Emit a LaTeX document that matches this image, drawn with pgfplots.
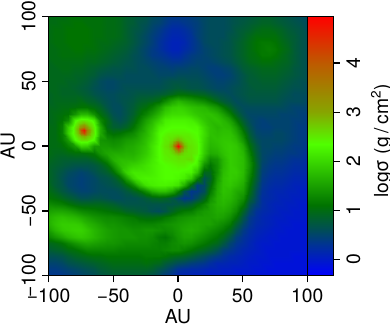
\documentclass[border=0pt]{standalone}
\usepackage{fontspec}
\setmainfont{TeX Gyre Heros}
\usepackage{pgfplots}
\pgfplotsset{compat=1.18}
\def\mkgrid#1#2#3#4#5#6{\gdef#1{}\foreach \r [count=\i from 0] in {#6}{\foreach \v [count=\j from 0] in \r{\pgfmathsetmacro\xx{#2+#3*\j}\pgfmathsetmacro\yy{#4+#5*\i}\xdef#1{#1(\xx,\yy,\v)}}}}
% log sigma, x=-100..100 by 5, y=100..-100 by 5
\mkgrid\gridA{-100}{5}{100}{-5}{
{1.0,1.0,1.0,1.05,1.05,1.05,1.05,1.05,1.05,1.0,1.0,.95,.85,.8,.75,.7,.6,.55,.45,.4,.4,.4,.45,.5,.55,.6,.6,.6,.65,.7,.7,.75,.8,.85,.85,.8,.75,.7,.65,.6,.6},
{1.0,1.0,1.05,1.05,1.1,1.1,1.05,1.05,1.05,1.0,1.0,.95,.85,.8,.7,.65,.55,.5,.4,.3,.3,.35,.4,.45,.55,.6,.6,.6,.65,.7,.75,.8,.85,.9,.9,.85,.8,.75,.7,.65,.6},
{1.0,1.05,1.05,1.1,1.1,1.1,1.1,1.05,1.05,1.0,1.0,.95,.85,.75,.7,.6,.5,.4,.3,.2,.2,.25,.35,.45,.55,.6,.6,.6,.65,.75,.8,.85,.95,1.0,1.0,.95,.9,.8,.75,.7,.6},
{1.0,1.05,1.05,1.1,1.1,1.1,1.1,1.05,1.05,1.0,1.0,.95,.85,.75,.65,.55,.45,.35,.25,.15,.15,.2,.3,.45,.55,.6,.6,.6,.7,.75,.85,.95,1.05,1.05,1.05,1.05,.95,.85,.8,.7,.65},
{1.0,1.05,1.05,1.1,1.1,1.1,1.1,1.05,1.0,1.0,.95,.9,.85,.75,.65,.55,.45,.3,.2,.1,.1,.15,.3,.4,.55,.6,.6,.65,.7,.8,.9,1.0,1.1,1.15,1.15,1.1,1.0,.9,.8,.7,.65},
{1.0,1.0,1.05,1.05,1.1,1.1,1.05,1.05,1.0,.95,.9,.85,.8,.7,.6,.5,.4,.3,.2,.1,.1,.2,.3,.4,.5,.55,.6,.65,.7,.8,.9,1.0,1.1,1.15,1.2,1.15,1.05,.95,.8,.7,.65},
{1.0,1.0,1.05,1.05,1.05,1.05,1.0,1.0,.95,.9,.85,.8,.75,.65,.6,.5,.4,.35,.3,.2,.2,.3,.4,.45,.5,.55,.6,.65,.7,.8,.9,1.0,1.05,1.15,1.15,1.1,1.0,.9,.8,.7,.65},
{.95,1.0,1.0,1.0,1.0,1.0,.95,.95,.9,.85,.8,.75,.7,.65,.6,.55,.5,.45,.4,.35,.35,.4,.45,.5,.5,.5,.55,.6,.65,.75,.85,.95,1.0,1.05,1.05,1.0,.95,.9,.8,.7,.65},
{.95,.95,1.0,1.0,.95,.95,.9,.85,.8,.75,.7,.7,.65,.65,.6,.6,.55,.5,.5,.45,.5,.5,.55,.55,.5,.45,.45,.5,.55,.65,.8,.85,.9,.95,.95,.95,.9,.85,.75,.7,.65},
{.95,.95,.95,.95,.9,.9,.85,.8,.7,.65,.65,.65,.6,.6,.6,.6,.6,.55,.55,.55,.6,.6,.6,.6,.55,.5,.45,.45,.5,.6,.7,.8,.85,.9,.9,.9,.85,.8,.75,.7,.65},
{.95,.95,.95,.9,.9,.85,.8,.7,.6,.55,.55,.6,.6,.6,.6,.6,.6,.6,.65,.7,.7,.7,.65,.65,.6,.55,.5,.5,.55,.6,.7,.8,.8,.85,.85,.85,.8,.75,.7,.65,.65},
{.95,.95,.9,.9,.85,.8,.75,.65,.6,.55,.55,.6,.65,.65,.65,.65,.65,.65,.7,.75,.8,.75,.7,.7,.65,.6,.55,.55,.6,.65,.7,.75,.8,.8,.8,.8,.75,.7,.65,.65,.6},
{.9,.95,.9,.9,.9,.85,.8,.7,.65,.6,.6,.65,.65,.7,.75,.75,.75,.8,.85,.95,1.05,1.05,1.0,.95,.9,.8,.7,.65,.6,.65,.7,.75,.75,.75,.75,.75,.7,.65,.6,.6,.6},
{.9,.95,.95,.95,.95,1.0,.9,.85,.75,.65,.6,.65,.7,.75,.85,.9,.95,1.05,1.3,1.55,1.7,1.6,1.5,1.4,1.3,1.15,.95,.8,.7,.6,.65,.7,.7,.7,.7,.7,.65,.6,.6,.6,.55},
{.95,.95,1.0,1.0,1.05,1.1,1.1,1.0,.9,.7,.6,.6,.7,.8,.95,1.05,1.2,1.45,1.75,1.9,1.95,1.9,1.8,1.75,1.7,1.55,1.4,1.15,.9,.7,.6,.6,.6,.6,.6,.6,.6,.55,.5,.5,.5},
{.95,1.0,1.05,1.1,1.4,1.7,1.7,1.35,1.05,.85,.65,.6,.7,.85,1.05,1.25,1.45,1.7,1.95,2.05,2.05,2.05,1.95,1.85,1.8,1.8,1.7,1.5,1.2,.9,.65,.55,.55,.55,.55,.55,.5,.5,.5,.45,.45},
{.95,1.0,1.1,1.3,2.25,2.5,2.45,2.15,1.3,1.0,.75,.65,.75,.95,1.2,1.5,1.7,1.95,2.2,2.25,2.25,2.25,2.2,2.05,1.85,1.75,1.8,1.7,1.5,1.15,.8,.6,.5,.45,.5,.5,.5,.5,.45,.45,.4},
{1.0,1.0,1.2,1.9,2.55,2.9,3.0,2.45,1.6,1.0,.85,.8,.9,1.1,1.35,1.65,1.85,2.2,2.3,2.35,2.35,2.35,2.3,2.3,2.0,1.8,1.7,1.75,1.7,1.45,1.0,.7,.5,.45,.45,.5,.5,.5,.45,.4,.4},
{1.0,1.0,1.2,1.95,2.55,2.9,3.0,2.5,1.6,1.15,1.05,1.1,1.2,1.3,1.5,1.7,1.95,2.3,2.4,2.45,2.45,2.45,2.4,2.35,2.05,1.8,1.75,1.8,1.8,1.6,1.2,.8,.55,.5,.5,.55,.55,.5,.45,.4,.4},
{1.0,1.0,1.15,1.45,2.3,2.55,2.55,2.25,1.4,1.35,1.3,1.35,1.45,1.5,1.6,1.8,2.0,2.3,2.5,2.7,3.0,2.7,2.5,2.4,2.0,1.75,1.8,1.85,1.85,1.75,1.4,.95,.65,.55,.55,.55,.55,.5,.45,.4,.4},
{1.0,1.0,1.05,1.2,1.45,1.95,1.9,1.45,1.45,1.45,1.4,1.45,1.55,1.6,1.7,1.85,2.1,2.35,2.55,3.0,4.9,3.0,2.55,2.45,1.95,1.7,1.75,1.85,1.9,1.85,1.6,1.1,.75,.55,.55,.5,.5,.45,.4,.4,.35},
{1.0,.95,.95,1.0,1.05,1.05,1.1,1.15,1.4,1.55,1.6,1.6,1.65,1.65,1.75,1.9,2.1,2.35,2.5,2.6,2.9,2.7,2.55,2.45,1.9,1.6,1.65,1.8,1.9,1.85,1.7,1.25,.8,.55,.5,.45,.45,.4,.4,.35,.3},
{.95,.9,.85,.85,.85,.85,.85,.95,1.1,1.35,1.65,1.75,1.75,1.75,1.85,2.0,2.15,2.35,2.45,2.5,2.55,2.55,2.6,2.3,1.7,1.3,1.4,1.7,1.9,1.85,1.75,1.35,.85,.55,.45,.4,.4,.35,.3,.3,.25},
{.9,.85,.8,.75,.7,.7,.7,.75,.85,1.05,1.4,1.75,1.85,1.95,2.0,2.1,2.2,2.3,2.35,2.4,2.45,2.45,2.35,2.2,1.35,1.1,1.35,1.7,1.9,1.85,1.75,1.4,.9,.5,.4,.35,.35,.3,.25,.25,.2},
{.9,.8,.7,.6,.55,.5,.55,.65,.75,.85,1.05,1.5,1.95,2.15,2.15,2.15,2.2,2.3,2.35,2.35,2.35,2.3,2.25,1.85,.95,.95,1.35,1.75,1.9,1.9,1.75,1.35,.85,.45,.35,.3,.3,.25,.2,.2,.2},
{.9,.8,.65,.55,.5,.45,.5,.55,.65,.7,.8,1.05,1.5,2.0,2.2,2.25,2.25,2.3,2.35,2.35,2.3,2.2,1.9,1.25,.65,.85,1.45,1.8,1.9,1.85,1.7,1.25,.8,.4,.3,.25,.25,.2,.15,.15,.15},
{.95,.8,.7,.55,.5,.45,.5,.55,.6,.65,.7,.8,1.0,1.3,1.75,2.1,2.2,2.25,2.25,2.2,2.1,1.65,1.0,.45,.55,1.0,1.55,1.8,1.85,1.75,1.6,1.15,.7,.35,.25,.2,.2,.15,.1,.1,.1},
{1.0,.9,.75,.65,.55,.5,.5,.55,.6,.6,.6,.65,.75,.9,1.05,1.35,1.65,1.8,1.8,1.6,1.2,.7,.35,.4,.6,1.15,1.6,1.8,1.75,1.6,1.5,1.05,.6,.3,.2,.15,.15,.1,.1,.05,.05},
{1.1,1.05,.95,.85,.75,.65,.65,.7,.7,.65,.6,.6,.65,.65,.7,.8,.9,.95,.9,.75,.55,.35,.4,.6,.9,1.35,1.65,1.75,1.7,1.55,1.35,.9,.55,.25,.2,.15,.1,.1,.05,.05,.05},
{1.3,1.25,1.2,1.1,1.0,.95,.95,.95,.95,.9,.85,.75,.7,.7,.7,.7,.7,.7,.7,.7,.75,.75,.85,1.05,1.25,1.5,1.65,1.7,1.6,1.45,1.15,.7,.45,.25,.15,.1,.1,.05,.05,0,0},
{1.5,1.55,1.55,1.5,1.4,1.3,1.25,1.2,1.15,1.1,1.05,1.0,.9,.85,.8,.75,.65,.6,.7,.9,1.05,1.15,1.2,1.35,1.45,1.5,1.6,1.6,1.5,1.3,.9,.55,.3,.2,.15,.1,.05,.05,0,0,0},
{1.65,1.75,1.8,1.75,1.7,1.6,1.5,1.4,1.35,1.3,1.3,1.25,1.2,1.15,1.05,1.0,1.0,1.05,1.15,1.25,1.35,1.4,1.45,1.5,1.5,1.5,1.55,1.5,1.35,1.1,.7,.4,.25,.15,.1,.05,.05,0,0,0,-.05},
{1.65,1.8,1.9,1.9,1.9,1.85,1.7,1.6,1.5,1.4,1.4,1.35,1.3,1.25,1.25,1.25,1.25,1.3,1.35,1.4,1.45,1.5,1.55,1.55,1.5,1.5,1.4,1.3,1.15,.85,.55,.35,.2,.15,.1,.05,0,0,-.05,-.05,-.05},
{1.5,1.7,1.85,1.9,1.95,1.95,1.85,1.7,1.6,1.5,1.45,1.4,1.4,1.35,1.35,1.4,1.4,1.35,1.3,1.35,1.45,1.55,1.6,1.55,1.45,1.35,1.25,1.15,.95,.65,.4,.25,.15,.1,.05,0,0,-.05,-.05,-.05,-.05},
{1.25,1.4,1.55,1.7,1.8,1.85,1.8,1.7,1.6,1.5,1.45,1.4,1.4,1.4,1.35,1.35,1.3,1.15,1.1,1.25,1.4,1.5,1.5,1.4,1.3,1.2,1.1,.95,.7,.45,.3,.2,.1,.05,0,0,-.05,-.05,-.05,-.05,-.05},
{.95,1.0,1.1,1.25,1.4,1.5,1.55,1.5,1.45,1.4,1.4,1.35,1.3,1.3,1.3,1.3,1.25,1.2,1.2,1.3,1.35,1.4,1.35,1.25,1.15,1.05,.95,.75,.5,.35,.25,.15,.05,0,0,-.05,-.05,-.05,-.05,-.05,-.05},
{.8,.85,.9,1.0,1.05,1.15,1.25,1.25,1.25,1.25,1.25,1.2,1.2,1.2,1.2,1.2,1.2,1.2,1.25,1.3,1.3,1.2,1.1,1.0,.9,.8,.65,.45,.35,.25,.15,.1,.05,0,-.05,-.05,-.05,-.05,-.05,-.05,-.05},
{.65,.65,.7,.8,.9,.95,1.0,1.05,1.05,1.1,1.1,1.1,1.1,1.1,1.1,1.15,1.15,1.15,1.1,1.0,.95,.9,.8,.7,.6,.5,.4,.3,.2,.15,.1,.05,0,0,-.05,-.05,-.05,-.05,-.1,-.1,-.1},
{.5,.5,.55,.65,.7,.75,.8,.85,.9,.95,1.0,1.0,1.0,1.0,1.0,1.05,1.0,.95,.8,.7,.6,.55,.45,.4,.35,.25,.15,.15,.1,.1,.05,0,0,-.05,-.05,-.1,-.1,-.1,-.1,-.1,-.1},
{.4,.4,.45,.5,.55,.6,.65,.7,.8,.85,.9,.9,.9,.9,.9,.9,.85,.7,.6,.45,.3,.25,.2,.2,.15,.1,.1,.05,.05,0,0,0,-.05,-.05,-.1,-.1,-.1,-.1,-.1,-.1,-.15},
{.35,.35,.35,.4,.45,.5,.55,.6,.7,.75,.8,.8,.8,.8,.8,.75,.65,.55,.4,.3,.15,.1,.1,.05,.05,0,0,0,0,0,-.05,-.05,-.05,-.1,-.1,-.1,-.1,-.1,-.1,-.15,-.15}}
% companion, x=-80..-65 by 2.5, y=20..5 by -2.5
\mkgrid\gridB{-80}{2.5}{20}{-2.5}{
{2.25,2.4,2.5,2.5,2.45,2.35,2.15},
{2.4,2.6,2.7,2.8,2.65,2.5,2.35},
{2.55,2.8,3.25,3.5,3.05,2.65,2.45},
{2.6,2.95,4.15,4.7,3.5,2.8,2.5},
{2.55,2.85,3.7,4.2,3.25,2.7,2.5},
{2.45,2.65,2.85,2.95,2.8,2.6,2.4},
{2.3,2.45,2.55,2.6,2.55,2.4,2.25}}
% central star, x=-10..10 by 2.5, y=10..-10 by -2.5
\mkgrid\gridC{-10}{2.5}{10}{-2.5}{
{2.4,2.45,2.45,2.45,2.45,2.45,2.45,2.45,2.4},
{2.45,2.5,2.5,2.55,2.6,2.55,2.5,2.5,2.45},
{2.5,2.5,2.6,2.75,2.9,2.75,2.6,2.5,2.5},
{2.5,2.55,2.75,3.2,3.9,3.2,2.75,2.55,2.5},
{2.55,2.6,2.9,3.9,4.9,3.9,2.9,2.6,2.55},
{2.5,2.55,2.75,3.2,3.9,3.2,2.75,2.55,2.55},
{2.5,2.5,2.6,2.75,2.9,2.75,2.6,2.55,2.55},
{2.45,2.5,2.5,2.55,2.6,2.55,2.55,2.55,2.55},
{2.45,2.45,2.5,2.5,2.55,2.55,2.55,2.6,2.6}}
\pgfplotsset{
  hm/.style={surf,shader=interp},
  common/.style={
    scale only axis,height=259.3bp,view={0}{90},anchor=south west,
    tick align=outside,major tick length=6.5bp,
    every tick/.style={black,line width=1.3bp},
    axis line style={line width=1.3bp},
    axis on top,ztick=\empty,
    tick label style={font=\fontsize{19.3bp}{21bp}\selectfont},
    label style={font=\fontsize{19.3bp}{21bp}\selectfont},
    colormap={gd}{rgb255(-33)=(0,0,255) rgb255(30)=(0,50,150) rgb255(65)=(0,80,80) rgb255(110)=(0,115,0) rgb255(235)=(80,255,0) rgb255(300)=(135,165,0) rgb255(400)=(190,90,0) rgb255(495)=(255,0,0)},
    point meta min=-0.33,point meta max=4.95,
  }}
\begin{document}
\fontsize{19.3bp}{21bp}\selectfont
\begin{tikzpicture}[x=1bp,y=1bp]
\useasboundingbox (-48.7,-50.3) rectangle (341.3,275.7);
\begin{axis}[common,
  at={(0,0)},width=258.6bp,
  xmin=-100,xmax=100,ymin=-100,ymax=100,
  xtick={-100,-50,0,50,100},xticklabels={−100,−50,0,50,100},
  ytick={-100,-50,0,50,100},yticklabels={−100,−50,0,50,100},
  xtick pos=bottom,ytick pos=left,
  yticklabel style={rotate=90,anchor=south},
  xlabel={AU},ylabel={AU},
  xlabel style={at={(axis description cs:0.5,0)},anchor=north,yshift=-27.5bp},
  ylabel style={at={(axis description cs:0,0.5)},anchor=south,rotate=0,yshift=27bp},
]
\edef\tmp{\noexpand\addplot3[hm,mesh/cols=41] coordinates {\gridA};}\tmp
\edef\tmp{\noexpand\addplot3[hm,mesh/cols=7] coordinates {\gridB};}\tmp
\edef\tmp{\noexpand\addplot3[hm,mesh/cols=9] coordinates {\gridC};}\tmp
\end{axis}
\begin{axis}[common,
  at={(258.6bp,0)},width=26bp,
  xmin=0,xmax=1,ymin=-0.33,ymax=4.95,
  xtick=\empty,
  ytick={0,1,2,3,4},yticklabels={0,1,2,3,4},
  ytick pos=right,yticklabel pos=right,
  yticklabel style={rotate=90,anchor=north},
  ylabel={logσ (g\hspace{0.2em}/\hspace{0.2em}cm\textsuperscript{2})},
  ylabel style={at={(axis description cs:1,0.52)},anchor=north,rotate=0,yshift=-31bp},
]
\addplot3[hm,mesh/cols=2] coordinates {
(0,-0.33,-0.33)(1,-0.33,-0.33)
(0,0.3,0.3)(1,0.3,0.3)
(0,0.65,0.65)(1,0.65,0.65)
(0,1.1,1.1)(1,1.1,1.1)
(0,2.35,2.35)(1,2.35,2.35)
(0,3,3)(1,3,3)
(0,4,4)(1,4,4)
(0,4.95,4.95)(1,4.95,4.95)};
\end{axis}
\end{tikzpicture}
\end{document}
